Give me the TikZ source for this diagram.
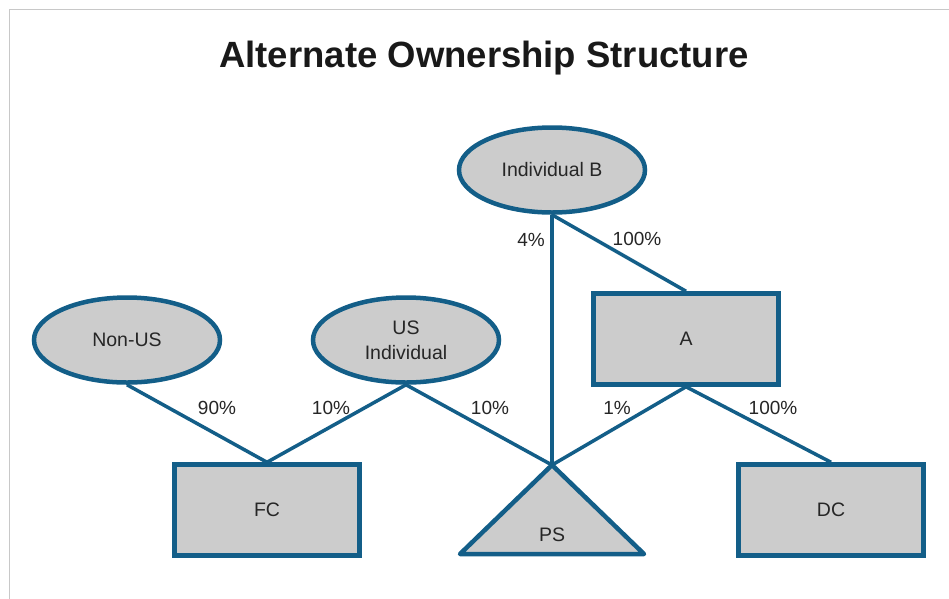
\documentclass[tikz,border=0pt]{standalone}
\usepackage{fontspec}
\setmainfont{Liberation Sans}
\usetikzlibrary{shapes.geometric}
\definecolor{edgeblue}{HTML}{135E88}
\definecolor{shapefill}{HTML}{CCCCCC}
\definecolor{framegray}{HTML}{C8C8C8}
\begin{document}
\begin{tikzpicture}[x=1pt,y=-1pt,
  owner/.style={ellipse,draw=edgeblue,fill=shapefill,line width=4.5pt,minimum width=186pt,minimum height=85pt,inner sep=0pt,font=\fontsize{19.5}{25}\selectfont,align=center,text=black!85},
  entity/.style={rectangle,draw=edgeblue,fill=shapefill,line width=4.5pt,minimum width=185pt,minimum height=91pt,inner sep=0pt,font=\fontsize{19.5}{22}\selectfont,text=black!85},
  link/.style={draw=edgeblue,line width=3.5pt},
  pct/.style={font=\fontsize{19}{22}\selectfont,text=black!85,inner sep=0pt}]
\useasboundingbox (0,0) rectangle (949,598);
\fill[white] (0,0) rectangle (949,598);
\draw[framegray,line width=1.8pt] (9.5,600) -- (9.5,9.5) -- (951,9.5);
\node[font=\bfseries\fontsize{36.5}{40}\selectfont,text=black!90] (title) at (484,58) {Alternate Ownership Structure};
% triangle PS
\coordinate (psapex) at (552,465);
\coordinate (psleft) at (460,554);
\coordinate (psright) at (644,554);
\draw[edgeblue,fill=shapefill,line width=4.5pt,line join=round] (psapex) -- (psright) -- (psleft) -- cycle;
\node[font=\fontsize{19.5}{22}\selectfont,text=black!85] (ps) at (552,535) {PS};
\node[owner] (indb) at (552,170) {Individual B};
\node[owner] (nonus) at (127,340) {Non-US};
\node[owner] (usind) at (406,340) {US\\Individual};
\node[entity] (a) at (686,339) {A};
\node[entity] (fc) at (267,510) {FC};
\node[entity] (dc) at (831,510) {DC};
\draw[link] (indb.south) -- (psapex);
\draw[link] (indb.south) -- (a.north);
\draw[link] (nonus.south) -- (fc.north);
\draw[link] (usind.south) -- (fc.north);
\draw[link] (usind.south) -- (psapex);
\draw[link] (a.south) -- (psapex);
\draw[link] (a.south) -- (dc.north);
\node[pct] (p4) at (531,240) {4\%};
\node[pct] (p100b) at (637,239) {100\%};
\node[pct] (p90) at (217,408) {90\%};
\node[pct] (p10a) at (331,408) {10\%};
\node[pct] (p10b) at (490,408) {10\%};
\node[pct] (p1) at (617,408) {1\%};
\node[pct] (p100a) at (773,408) {100\%};
\end{tikzpicture}
\end{document}
